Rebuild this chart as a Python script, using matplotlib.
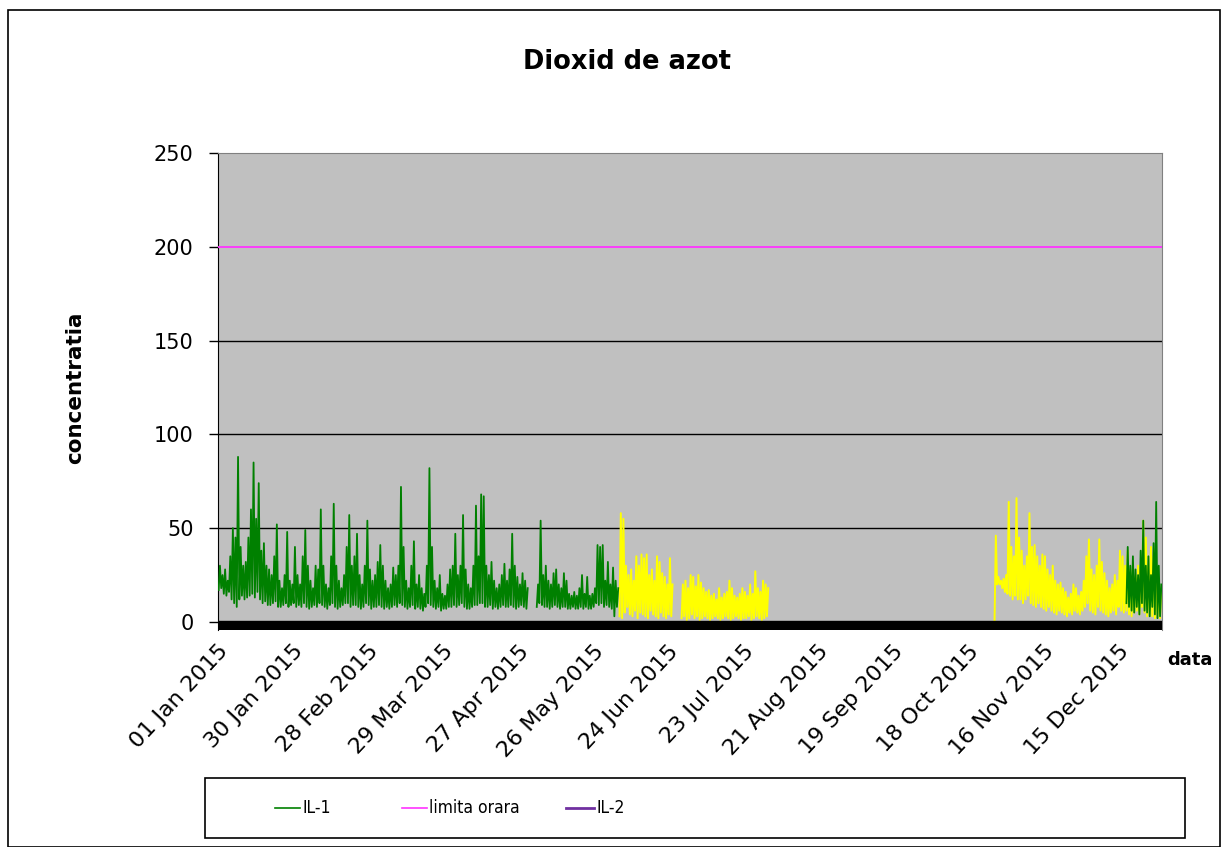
import numpy as np
import matplotlib
matplotlib.use("Agg")
import matplotlib.pyplot as plt
import matplotlib.dates as mdates
from matplotlib.lines import Line2D
from matplotlib.patches import Rectangle
from matplotlib import font_manager

plt.rcParams['font.family'] = ['DejaVu Sans']

nan = np.nan

# IL-1, daily low / high (01 Jan - 04 Jun 2015)
il1_start = '2015-01-01'
il1_high = [30, 25, 28, 22, 35, 50, 45, 88, 40, 30,
            32, 45, 60, 85, 55, 74, 38, 42, 30, 28,
            25, 35, 52, 22, 18, 25, 48, 22, 20, 40,
            25, 20, 35, 49, 30, 22, 18, 30, 28, 60,
            30, 20, 18, 35, 63, 30, 22, 18, 25, 40,
            57, 30, 35, 47, 25, 20, 30, 54, 28, 22,
            25, 32, 41, 30, 22, 18, 20, 29, 25, 30,
            72, 40, 22, 18, 30, 43, 20, 25, 18, 15,
            30, 82, 40, 22, 18, 25, 15, 14, 20, 28,
            30, 47, 25, 30, 57, 28, 20, 18, 30, 62,
            35, 68, 67, 30, 25, 32, 22, 18, 20, 25,
            31, 22, 28, 47, 30, 24, 20, 26, 22, 18,
            nan, nan, nan, 20, 54, 25, 30, 22, 20, 26,
            28, 20, 18, 26, 22, 15, 14, 16, 14, 18,
            25, 15, 24, 14, 15, 18, 41, 40, 41, 22,
            32, 20, 29, 22, 18]
il1_low = [17, 18, 15, 14, 16, 12, 10, 8, 12, 14,
           12, 13, 14, 15, 13, 16, 12, 10, 11, 9,
           9, 10, 11, 8, 8, 9, 10, 8, 9, 10,
           8, 9, 8, 10, 8, 7, 8, 9, 8, 10,
           9, 8, 7, 9, 10, 8, 7, 8, 9, 10,
           10, 8, 9, 9, 8, 7, 8, 10, 9, 7,
           8, 8, 9, 8, 7, 8, 7, 8, 9, 8,
           10, 9, 8, 7, 8, 9, 7, 8, 7, 6,
           8, 10, 9, 8, 7, 8, 6, 7, 7, 8,
           8, 9, 8, 9, 10, 8, 7, 7, 8, 9,
           9, 10, 10, 8, 8, 9, 7, 8, 7, 8,
           9, 8, 8, 9, 8, 7, 8, 9, 8, 7,
           nan, nan, nan, 8, 10, 9, 8, 8, 7, 8,
           9, 8, 7, 8, 8, 7, 7, 8, 7, 7,
           8, 7, 8, 7, 7, 8, 10, 9, 10, 8,
           9, 8, 7, 3, 8]

# IL-1 again in December
il1_dec_start = '2015-12-18'
il1_dec_high = [40, 30, 35, 28, 25, 38, 54, 30, 35, 25, 42, 64, 30, 20]
il1_dec_low = [10, 8, 6, 5, 8, 4, 10, 6, 5, 3, 8, 4, 2, 3]

# yellow series (no legend entry), three blocks
yel1_start = '2015-06-05'
yel1_high = [58, 55, 30, 25, 28, 22, 35, 30, 36, 34, 36, 25, 28, 22, 35, 32, 26, 24, 20, 34, 20]
yel1_low = [3, 2, 5, 8, 4, 3, 6, 2, 5, 4, 3, 2, 6, 4, 3, 2, 5, 3, 2, 4, 3]

yel2_start = '2015-06-29'
yel2_high = [20, 22, 18, 25, 24, 19, 25, 21, 18, 16, 17, 14, 15, 12, 18, 13, 15,
             16, 22, 18, 14, 13, 15, 18, 16, 14, 20, 15, 27, 18, 16, 22, 20, 18]
yel2_low = [2, 3, 1, 2, 4, 2, 3, 1, 2, 3, 2, 1, 2, 3, 2, 1, 2,
            3, 2, 1, 2, 3, 2, 1, 2, 2, 3, 1, 2, 3, 2, 1, 2, 3]

yel3_start = '2015-10-28'
yel3_high = [46, 24, 22, 23, 25, 64, 40, 35, 66, 45,
             38, 30, 35, 58, 40, 41, 35, 30, 36, 35,
             28, 25, 30, 22, 20, 21, 18, 16, 13, 15,
             20, 18, 14, 16, 22, 35, 44, 28, 25, 30,
             44, 32, 26, 22, 18, 20, 25, 22, 38, 35,
             30, 38, 28, 22, 25, 30, 28, 54, 45, 30,
             40, 35, 25, 20, 18]
yel3_low = [0, 20, 20, 18, 16, 15, 14, 12, 14, 12,
            12, 10, 12, 14, 10, 9, 8, 10, 8, 7,
            6, 8, 6, 5, 4, 6, 5, 4, 3, 5,
            4, 6, 5, 4, 6, 8, 10, 6, 5, 4,
            8, 6, 5, 4, 3, 5, 6, 4, 8, 6,
            5, 6, 4, 3, 5, 6, 4, 8, 5, 3,
            4, 3, 2, 3, 2]

limita_orara = 200
tick_dates = ['2015-01-01', '2015-01-30', '2015-02-28', '2015-03-29', '2015-04-27',
              '2015-05-26', '2015-06-24', '2015-07-23', '2015-08-21', '2015-09-19',
              '2015-10-18', '2015-11-16', '2015-12-15']

legend_labels = ['IL-1', 'limita orara', 'IL-2']
legend_colors = ['#008000', '#ff33ff', '#7030a0']


def build(start, lows, highs):
    # each day: low at 06:00, high at 18:00
    t0 = np.datetime64(start + 'T00:00')
    times, vals = [], []
    for i, (lo, hi) in enumerate(zip(lows, highs)):
        day = t0 + np.timedelta64(24 * i, 'h')
        times += [day + np.timedelta64(6, 'h'), day + np.timedelta64(18, 'h')]
        vals += [lo, hi]
    return np.array(times), np.array(vals, dtype=float)


fig = plt.figure(figsize=(12.27, 8.47), dpi=100)
ax = fig.add_axes([218 / 1227, 1 - 630 / 847, 944 / 1227, 477 / 847])
ax.set_facecolor('#c0c0c0')

ylow = -4.3
ax.set_ylim(ylow, 250)
ax.set_xlim(np.datetime64('2015-01-01'), np.datetime64('2016-01-01'))

for y in [50, 100, 150]:
    ax.axhline(y, color='black', lw=1, zorder=1)

for s, lo, hi in [(yel1_start, yel1_low, yel1_high),
                  (yel2_start, yel2_low, yel2_high),
                  (yel3_start, yel3_low, yel3_high)]:
    t, v = build(s, lo, hi)
    ax.plot(t, v, color='#ffff00', lw=1.4, zorder=2)

for s, lo, hi in [(il1_start, il1_low, il1_high),
                  (il1_dec_start, il1_dec_low, il1_dec_high)]:
    t, v = build(s, lo, hi)
    ax.plot(t, v, color='#008000', lw=1.3, zorder=3)

ax.axhline(limita_orara, color='#ff33ff', lw=1.3, zorder=3)
ax.axhspan(ylow, 0.6, color='black', zorder=4)

ax.set_yticks([0, 50, 100, 150, 200, 250])
ax.tick_params(axis='y', labelsize=15, length=6.5, width=1, direction='out', pad=11)
ax.set_xticks([np.datetime64(d) for d in tick_dates])
ax.xaxis.set_major_formatter(mdates.DateFormatter('%d %b %Y'))
ax.tick_params(axis='x', labelsize=16, length=0, pad=8)
for lab in ax.get_xticklabels():
    lab.set_rotation(47)
    lab.set_ha('right')
    lab.set_va('top')
    lab.set_rotation_mode('anchor')

for side in ['top', 'right']:
    ax.spines[side].set_color('#808080')
ax.spines['bottom'].set_visible(False)
ax.spines['left'].set_color('black')

fig.text(627 / 1227, 1 - 62 / 847, 'Dioxid de azot', ha='center', va='center',
         fontsize=18.5, fontweight='bold')
fig.text(75 / 1227, 1 - 388 / 847, 'concentratia', ha='center', va='center',
         rotation=90, fontsize=15.5, fontweight='bold')
fig.text(1190 / 1227, 1 - 660 / 847, 'data', ha='center', va='center',
         fontsize=13, fontweight='bold')

# outer chart frame and legend box
fig.patches.append(Rectangle((8 / 1227, 0), 1212 / 1227, 1 - 10 / 847,
                             transform=fig.transFigure, fill=False,
                             edgecolor='black', lw=1.2))
fig.patches.append(Rectangle((205 / 1227, 1 - 838 / 847), 980 / 1227, 60 / 847,
                             transform=fig.transFigure, facecolor='white',
                             edgecolor='black', lw=1.2))

# condensed face for the legend if one is installed
leg_prop = font_manager.FontProperties(family='Liberation Sans', size=11.5)
for f in font_manager.fontManager.ttflist:
    if f.stretch in ('condensed', 'semi-condensed') and f.weight in (400, 'normal') \
            and f.style == 'normal':
        leg_prop = font_manager.FontProperties(fname=f.fname, size=12.5)
        break

# legend entries placed like the original (line start, text start in px)
leg_x = [(275, 302), (402, 429), (566, 596)]
leg_y = 1 - 808 / 847
for (x0, xt), lab, col in zip(leg_x, legend_labels, legend_colors):
    lw = 2 if lab == 'IL-2' else 1.2
    fig.add_artist(Line2D([x0 / 1227, (xt - 2) / 1227], [leg_y, leg_y],
                          transform=fig.transFigure, color=col, lw=lw))
    fig.text(xt / 1227, leg_y, lab, ha='left', va='center', fontproperties=leg_prop)

fig.savefig('out.png', dpi=100)
